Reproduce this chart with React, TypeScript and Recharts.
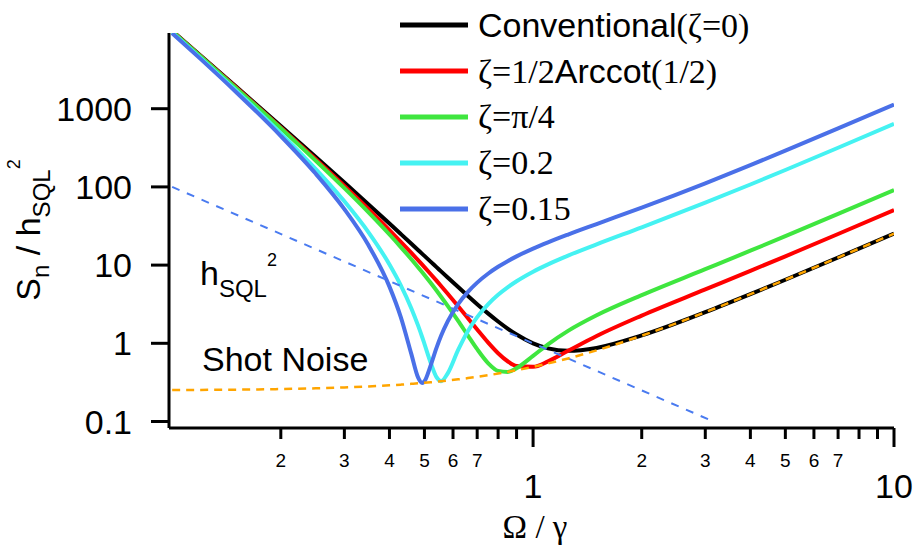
import React from "react";
import { LineChart, Line, XAxis, YAxis, Legend } from "recharts";

// Ω / γ sample points
const omega = [
  0.1, 0.12, 0.15, 0.2, 0.25, 0.3, 0.35, 0.4, 0.43, 0.46, 0.48, 0.493, 0.5,
  0.52, 0.54, 0.556, 0.58, 0.62, 0.66, 0.7, 0.75, 0.8, 0.85, 0.9, 1, 1.1,
  1.25, 1.5, 2, 3, 4, 5, 7, 10,
];

// S_n / h_SQL^2 for each curve
const conventional = [
  9901, 4754, 1932, 601.3, 241.2, 113.5, 59.65, 33.97, 24.98, 18.74, 15.62,
  13.93, 13.11, 11.08, 9.429, 8.32, 6.946, 5.235, 4.03, 3.168, 2.413, 1.899,
  1.543, 1.295, 1.0, 0.8616, 0.8005, 0.8733, 1.2625, 2.501, 4.25, 6.5, 12.5,
  25.25,
];
const zetaArccot = [
  9801, 4685, 1888, 576.6, 225.5, 102.7, 51.77, 28.0, 19.87, 14.31, 11.58,
  10.125, 9.425, 7.703, 6.322, 5.413, 4.308, 2.979, 2.093, 1.4995, 1.0263,
  0.7462, 0.5893, 0.5125, 0.5, 0.5876, 0.8011, 1.2413, 2.2625, 4.89, 8.438,
  12.96, 24.98, 50.49,
];
const zetaQuarterPi = [
  9740, 4643, 1860, 561.5, 216.0, 96.3, 47.17, 24.61, 17.01, 11.88, 9.4,
  8.086, 7.459, 5.931, 4.725, 3.943, 3.011, 1.932, 1.255, 0.8409, 0.5595,
  0.4439, 0.4307, 0.4817, 0.691, 0.9708, 1.442, 2.281, 4.13, 8.866, 15.275,
  23.45, 45.19, 91.34,
];
const zeta02 = [
  9414, 4418, 1719, 484.4, 168.8, 65.35, 26.21, 10.19, 5.51, 2.795, 1.693,
  1.195, 0.985, 0.5687, 0.3689, 0.3273, 0.4124, 0.8237, 1.439, 2.165, 3.149,
  4.168, 5.194, 6.216, 8.234, 10.229, 13.232, 18.45, 30.45, 62.79, 107.36,
  164.5, 316.6, 639.6,
];
const zeta015 = [
  9250, 4306, 1649, 447.2, 147.0, 51.94, 17.92, 5.307, 2.165, 0.7276, 0.3666,
  0.3108, 0.3272, 0.5183, 0.8743, 1.246, 1.905, 3.174, 4.554, 5.973, 7.753,
  9.511, 11.239, 12.938, 16.28, 19.584, 24.614, 33.51, 54.34, 111.2, 189.9,
  290.8, 559.7, 1130.7,
];
const shotNoise = [
  0.2525, 0.2536, 0.2556, 0.26, 0.2656, 0.2725, 0.2806, 0.29, 0.2962, 0.3029,
  0.3076, 0.3108, 0.3125, 0.3176, 0.3229, 0.3273, 0.3341, 0.3461, 0.3589,
  0.3725, 0.3906, 0.41, 0.4306, 0.4525, 0.5, 0.5525, 0.6406, 0.8125, 1.25,
  2.5, 4.25, 6.5, 12.5, 25.25,
];

// h_SQL^2 reference line
const sqlOmega = [0.1, 3.16];
const sqlValues = [100, 0.1];

const xTicks = [0.2, 0.3, 0.4, 0.5, 0.6, 0.7, 0.8, 0.9, 1, 2, 3, 4, 5, 6, 7, 8, 9, 10];
const yTicks = [0.1, 1, 10, 100, 1000];

const SANS = '"Liberation Sans", Arial, sans-serif';
const SERIF = '"Liberation Serif", "Times New Roman", serif';

const legendOrder = ["conv", "arccot", "quarter", "z02", "z015"];
const legendLabels: Record<string, [string, string][]> = {
  conv: [["Conventional", SANS], ["(ζ=0)", SERIF]],
  arccot: [["ζ=1/2", SERIF], ["Arccot", SANS], ["(1/2)", SERIF]],
  quarter: [["ζ=π/4", SERIF]],
  z02: [["ζ=0.2", SERIF]],
  z015: [["ζ=0.15", SERIF]],
};

const data = omega.map((x, i) => ({
  x,
  conv: conventional[i],
  arccot: zetaArccot[i],
  quarter: zetaQuarterPi[i],
  z02: zeta02[i],
  z015: zeta015[i],
  shot: shotNoise[i],
}));
const sqlData = sqlOmega.map((x, i) => ({ x, sql: sqlValues[i] }));

const XTick = (props: any) => {
  const { x, y, payload } = props;
  const v = payload.value;
  const major = v === 1 || v === 10;
  const digit = Math.round(v < 1 ? v * 10 : v);
  const label = major ? String(v) : digit <= 7 ? String(digit) : "";
  return (
    <g>
      <line x1={x} x2={x} y1={y} y2={y + (major ? 19 : 11)} stroke="#000" strokeWidth={3} />
      {label && (
        <text
          x={x}
          y={major ? y + 70 : y + 39}
          textAnchor="middle"
          fontFamily={SANS}
          fontSize={major ? 34 : 19}
          fill="#000"
        >
          {label}
        </text>
      )}
    </g>
  );
};

const YTick = (props: any) => {
  const { x, y, payload } = props;
  return (
    <g>
      <line x1={x - 18} x2={x} y1={y} y2={y} stroke="#000" strokeWidth={3} />
      <text x={x - 37} y={y + 12} textAnchor="end" fontFamily={SANS} fontSize={34} fill="#000">
        {String(payload.value)}
      </text>
    </g>
  );
};

const renderLegend = (props: any) => {
  const payload: any[] = props.payload || [];
  const rows = legendOrder
    .map((k) => payload.find((e) => e.dataKey === k))
    .filter(Boolean);
  return (
    <div>
      {rows.map((e: any) => (
        <div key={e.dataKey} style={{ display: "flex", alignItems: "center", height: 46 }}>
          <svg width={68} height={6}>
            <line x1={0} y1={3} x2={68} y2={3} stroke={e.color} strokeWidth={5} />
          </svg>
          <span style={{ marginLeft: 10, fontSize: 34, lineHeight: "46px", whiteSpace: "nowrap", color: "#000" }}>
            {legendLabels[e.dataKey].map(([t, f], j) => (
              <span key={j} style={{ fontFamily: f }}>
                {t}
              </span>
            ))}
          </span>
        </div>
      ))}
    </div>
  );
};

export default function App() {
  return (
    <div style={{ position: "absolute", left: 0, top: 0, width: 916, height: 547, background: "#fff" }}>
      <LineChart
        width={916}
        height={547}
        data={data}
        margin={{ top: 33, right: 22, bottom: 29, left: 69 }}
      >
        <XAxis
          dataKey="x"
          type="number"
          scale="log"
          domain={[0.098, 10]}
          allowDataOverflow
          ticks={xTicks}
          interval={0}
          tick={(p: any) => <XTick {...p} />}
          tickLine={false}
          tickSize={0}
          tickMargin={0}
          axisLine={{ stroke: "#000", strokeWidth: 3 }}
          height={90}
        />
        <YAxis
          type="number"
          scale="log"
          domain={[0.0826, 9290]}
          allowDataOverflow
          ticks={yTicks}
          interval={0}
          tick={(p: any) => <YTick {...p} />}
          tickLine={false}
          tickSize={0}
          tickMargin={0}
          axisLine={{ stroke: "#000", strokeWidth: 3 }}
          width={100}
        />
        <Legend
          layout="vertical"
          align="center"
          verticalAlign="middle"
          content={renderLegend}
          wrapperStyle={{ left: 400, top: 2, width: 420 }}
        />
        <Line dataKey="conv" type="monotone" stroke="#000000" strokeWidth={4} dot={false} activeDot={false} isAnimationActive={false} />
        <Line dataKey="arccot" type="monotone" stroke="#ff0000" strokeWidth={4} dot={false} activeDot={false} isAnimationActive={false} />
        <Line dataKey="quarter" type="monotone" stroke="#3fe63f" strokeWidth={4} dot={false} activeDot={false} isAnimationActive={false} />
        <Line dataKey="z02" type="monotone" stroke="#45f2f2" strokeWidth={4} dot={false} activeDot={false} isAnimationActive={false} />
        <Line dataKey="z015" type="monotone" stroke="#4a70e8" strokeWidth={4} dot={false} activeDot={false} isAnimationActive={false} />
        <Line data={sqlData} dataKey="sql" type="linear" stroke="#4a7bf0" strokeWidth={2} strokeDasharray="8 8" dot={false} activeDot={false} legendType="none" isAnimationActive={false} />
        <Line dataKey="shot" type="monotone" stroke="#ffa500" strokeWidth={2.5} strokeDasharray="8 6" dot={false} activeDot={false} legendType="none" isAnimationActive={false} />
      </LineChart>
      <svg
        width={916}
        height={547}
        style={{ position: "absolute", left: 0, top: 0, pointerEvents: "none" }}
      >
        <text transform="translate(40,230) rotate(-90)" textAnchor="middle" fontFamily={SANS} fontSize={34} fill="#000">
          S<tspan fontSize={24} dy={9}>n</tspan>
          <tspan dy={-9}> / h</tspan>
          <tspan fontSize={24} dy={10}>SQL</tspan>
          <tspan fontSize={18} dy={-30}>2</tspan>
        </text>
        <text x={535} y={538} textAnchor="middle" fontFamily={SERIF} fontSize={33} fill="#000">
          Ω / γ
        </text>
        <text x={200} y={285} fontFamily={SANS} fontSize={34} fill="#000">
          h<tspan fontSize={24} dy={12}>SQL</tspan>
          <tspan fontSize={18} dy={-31}>2</tspan>
        </text>
        <text x={202} y={371} fontFamily={SANS} fontSize={34} fill="#000">
          Shot Noise
        </text>
      </svg>
    </div>
  );
}
